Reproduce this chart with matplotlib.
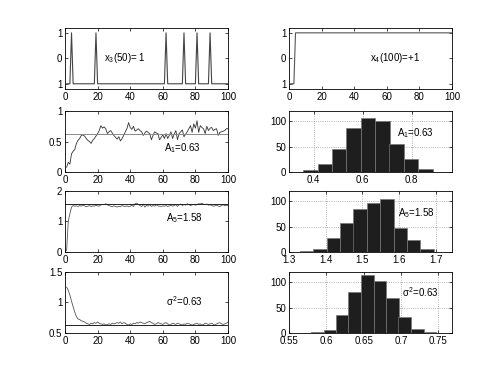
import numpy as np
import matplotlib
matplotlib.use("Agg")
import matplotlib.pyplot as plt

plt.rcParams['font.family'] = ['Liberation Sans', 'DejaVu Sans']
plt.rcParams['font.size'] = 7
plt.rcParams['mathtext.fontset'] = 'custom'
plt.rcParams['mathtext.rm'] = 'Liberation Sans'
plt.rcParams['mathtext.it'] = 'Liberation Sans'

# sample index
n = np.arange(1, 101)

# x_3 sequence: -1 except spikes to +1
x3_spikes = [4, 19, 62, 73, 81, 89]
# x_4 sequence: -1 until switch, +1 after
x4_switch = 4

# running estimate of A1 (true 0.63)
a1_est = [0.08, 0.16, 0.13, 0.30, 0.34, 0.37, 0.47, 0.52, 0.55, 0.60,
          0.61, 0.59, 0.55, 0.52, 0.50, 0.47, 0.52, 0.55, 0.59, 0.63,
          0.68, 0.76, 0.72, 0.74, 0.71, 0.63, 0.66, 0.68, 0.64, 0.60,
          0.57, 0.54, 0.58, 0.51, 0.55, 0.60, 0.66, 0.71, 0.81, 0.73,
          0.70, 0.75, 0.67, 0.69, 0.71, 0.68, 0.66, 0.60, 0.64, 0.67,
          0.65, 0.63, 0.53, 0.60, 0.66, 0.64, 0.63, 0.53, 0.57, 0.61,
          0.55, 0.63, 0.55, 0.60, 0.66, 0.55, 0.62, 0.68, 0.53, 0.63,
          0.66, 0.69, 0.58, 0.62, 0.66, 0.71, 0.76, 0.65, 0.79, 0.72,
          0.84, 0.65, 0.76, 0.73, 0.71, 0.63, 0.75, 0.68, 0.72, 0.73,
          0.68, 0.70, 0.71, 0.60, 0.65, 0.66, 0.67, 0.68, 0.71, 0.71]
a1_true = 0.63

# running estimate of A5 (true 1.58)
a5_est = [0.05, 1.00, 1.25, 1.47, 1.52, 1.50, 1.51, 1.49, 1.52, 1.50,
          1.53, 1.51, 1.48, 1.50, 1.52, 1.49, 1.51, 1.50, 1.53, 1.51,
          1.50, 1.54, 1.56, 1.55, 1.58, 1.54, 1.52, 1.50, 1.48, 1.51,
          1.49, 1.47, 1.50, 1.48, 1.52, 1.50, 1.49, 1.51, 1.48, 1.50,
          1.53, 1.49, 1.58, 1.60, 1.55, 1.52, 1.49, 1.56, 1.47, 1.53,
          1.50, 1.55, 1.49, 1.52, 1.50, 1.54, 1.51, 1.50, 1.49, 1.51,
          1.50, 1.52, 1.49, 1.51, 1.53, 1.50, 1.52, 1.55, 1.49, 1.54,
          1.57, 1.52, 1.56, 1.53, 1.58, 1.55, 1.52, 1.54, 1.56, 1.53,
          1.55, 1.58, 1.57, 1.60, 1.56, 1.55, 1.57, 1.53, 1.55, 1.52,
          1.50, 1.51, 1.53, 1.50, 1.49, 1.52, 1.55, 1.51, 1.53, 1.52]
a5_true = 1.58

# running estimate of noise variance (true 0.63)
s2_est = [1.25, 1.20, 1.12, 1.02, 0.93, 0.84, 0.77, 0.73, 0.72, 0.70,
          0.69, 0.68, 0.66, 0.65, 0.64, 0.66, 0.65, 0.67, 0.66, 0.68,
          0.66, 0.65, 0.64, 0.65, 0.63, 0.64, 0.65, 0.64, 0.66, 0.65,
          0.66, 0.67, 0.66, 0.68, 0.65, 0.67, 0.66, 0.64, 0.63, 0.65,
          0.64, 0.66, 0.65, 0.67, 0.66, 0.68, 0.67, 0.66, 0.65, 0.67,
          0.68, 0.69, 0.67, 0.66, 0.64, 0.65, 0.67, 0.66, 0.65, 0.64,
          0.66, 0.67, 0.65, 0.63, 0.64, 0.66, 0.65, 0.64, 0.66, 0.65,
          0.64, 0.63, 0.65, 0.64, 0.66, 0.65, 0.64, 0.63, 0.64, 0.65,
          0.66, 0.64, 0.65, 0.63, 0.64, 0.66, 0.65, 0.64, 0.65, 0.66,
          0.64, 0.63, 0.65, 0.66, 0.67, 0.65, 0.64, 0.65, 0.66, 0.68]
s2_true = 0.63

# histograms (bin centres, counts)
a1_bins = [0.328, 0.387, 0.445, 0.504, 0.562, 0.621, 0.680, 0.738, 0.797, 0.855]
a1_counts = [1, 4, 16, 45, 87, 107, 100, 55, 26, 7]
a5_bins = [1.348, 1.385, 1.421, 1.458, 1.494, 1.531, 1.567, 1.604, 1.640, 1.677]
a5_counts = [1, 5, 28, 57, 84, 97, 104, 48, 23, 6]
s2_bins = [0.588, 0.605, 0.621, 0.638, 0.655, 0.672, 0.689, 0.705, 0.722, 0.739]
s2_counts = [2, 6, 35, 80, 113, 103, 69, 31, 8, 1]

x3 = -np.ones(len(n))
x3[np.isin(n, x3_spikes)] = 1
x4 = np.where(n < x4_switch, -1, 1)

fig = plt.figure(figsize=(5, 3.75), dpi=100)

left_x, right_x, w = 0.13, 0.578, 0.326
rows = [0.763, 0.541, 0.328, 0.112]
h = 0.163


def style(ax):
    ax.tick_params(direction='in', length=2.5, width=0.5, top=True, right=True,
                   labelsize=7, pad=2)
    for s in ax.spines.values():
        s.set_linewidth(0.6)


# column 1: time series
ax = fig.add_axes([left_x, rows[0], w, h])
ax.plot(n, x3, color='#444444', lw=0.8)
ax.set_xlim(0, 100)
ax.set_ylim(-1.2, 1.2)
ax.set_yticks([-1, 0, 1])
ax.set_yticklabels(['1', '0', '1'])
ax.text(24, 0, 'x$_3$(50)= 1', fontsize=7, va='center')
style(ax)

ax = fig.add_axes([left_x, rows[1], w, h])
ax.plot(n, a1_est, color='#333333', lw=0.6)
ax.axhline(a1_true, color='#888888', lw=0.7)
ax.set_xlim(0, 100)
ax.set_ylim(0, 1)
ax.set_yticks([0, 0.5, 1])
ax.set_yticklabels(['0', '0.5', '1'])
ax.text(61, 0.4, 'A$_1$=0.63', fontsize=7, va='center')
style(ax)

ax = fig.add_axes([left_x, rows[2], w, h])
ax.plot(n, a5_est, color='#555555', lw=0.6)
ax.axhline(a5_true, color='#222222', lw=0.7)
ax.set_xlim(0, 100)
ax.set_ylim(0, 2)
ax.set_yticks([0, 1, 2])
ax.text(62, 1.1, 'A$_5$=1.58', fontsize=7, va='center')
style(ax)

ax = fig.add_axes([left_x, rows[3], w, h])
ax.plot(n, s2_est, color='#555555', lw=0.6)
ax.axhline(s2_true, color='#222222', lw=0.7)
ax.set_xlim(0, 100)
ax.set_ylim(0.5, 1.5)
ax.set_yticks([0.5, 1, 1.5])
ax.set_yticklabels(['0.5', '1', '1.5'])
ax.text(62, 1.02, '$\\sigma^2$=0.63', fontsize=7, va='center')
style(ax)

# column 2: x_4 and histograms
ax = fig.add_axes([right_x, rows[0], w, h])
ax.plot(n, x4, color='#555555', lw=0.8)
ax.set_xlim(0, 100)
ax.set_ylim(-1.2, 1.2)
ax.set_yticks([-1, 0, 1])
ax.set_yticklabels(['1', '0', '1'])
ax.text(50, 0, 'x$_4$(100)=+1', fontsize=7, va='center')
style(ax)


def hist_panel(pos, centers, counts, xlim, xticks, xlabels, label, lx, ly):
    ax = fig.add_axes(pos)
    width = centers[1] - centers[0]
    ax.bar(centers, counts, width=width, color='#1e1e1e', edgecolor='#777777',
           linewidth=0.5, zorder=2)
    ax.set_xlim(*xlim)
    ax.set_ylim(0, 120)
    ax.set_xticks(xticks)
    ax.set_xticklabels(xlabels)
    ax.set_yticks([0, 50, 100])
    ax.grid(True, linestyle=':', color='#999999', lw=0.6, zorder=0)
    ax.set_axisbelow(True)
    ax.text(lx, ly, label, fontsize=7, va='center')
    style(ax)
    return ax


hist_panel([right_x, rows[1], w, h], a1_bins, a1_counts, (0.299, 0.964),
           [0.4, 0.6, 0.8], ['0.4', '0.6', '0.8'], 'A$_1$=0.63', 0.74, 77)
hist_panel([right_x, rows[2], w, h], a5_bins, a5_counts, (1.3, 1.745),
           [1.3, 1.4, 1.5, 1.6, 1.7], ['1.3', '1.4', '1.5', '1.6', '1.7'],
           'A$_5$=1.58', 1.597, 76)
hist_panel([right_x, rows[3], w, h], s2_bins, s2_counts, (0.55, 0.7685),
           [0.55, 0.6, 0.65, 0.7, 0.75], ['0.55', '0.6', '0.65', '0.7', '0.75'],
           '$\\sigma^2$=0.63', 0.701, 80)

fig.savefig('out.png', dpi=100)
